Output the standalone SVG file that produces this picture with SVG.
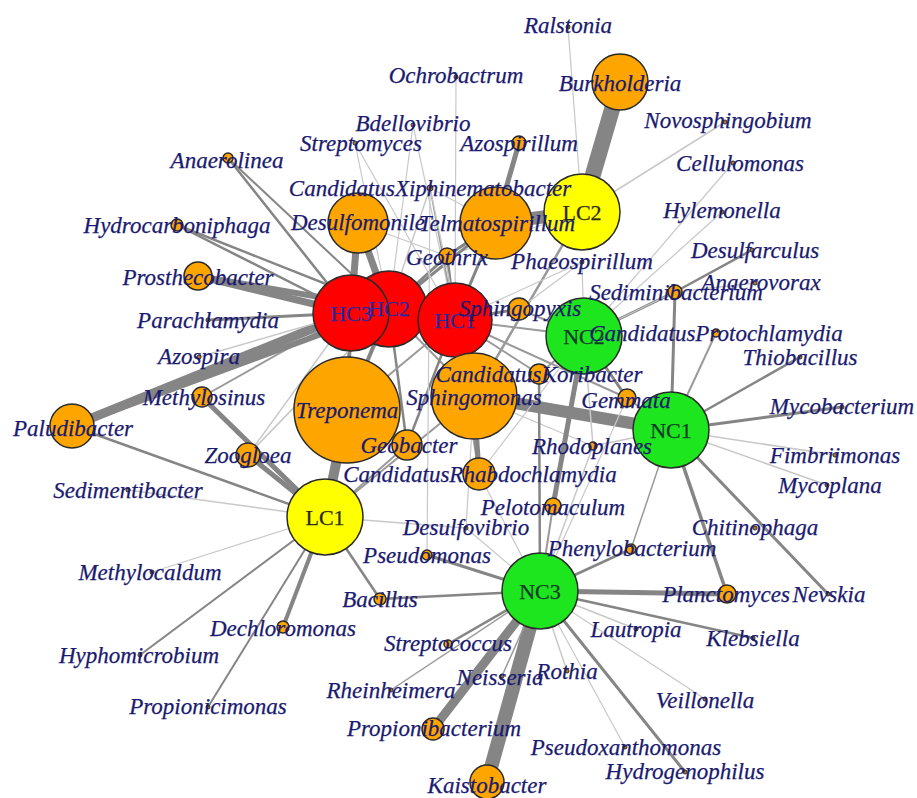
<svg xmlns="http://www.w3.org/2000/svg" width="917" height="798" viewBox="0 0 917 798">
<style>
.e{stroke:#858585;stroke-linecap:butt}
.l{stroke:#c8c8c8;stroke-linecap:butt}
.m{stroke:#9a9a9a;stroke-linecap:butt}
.o{fill:#FFA500;stroke:#2a2a2a;stroke-width:1.5}
.r{fill:#FF0000;stroke:#2a2a2a;stroke-width:1.5}
.g{fill:#1EE61E;stroke:#2a2a2a;stroke-width:1.5}
.y{fill:#FFFF00;stroke:#2a2a2a;stroke-width:1.5}
.d{fill:#b07a2a;stroke:#2a2a2a;stroke-width:1}
text{font-family:"Liberation Serif","Times New Roman",serif;font-size:23px;font-style:italic;fill:#1a1a70;stroke:#1a1a70;stroke-width:0.25;text-anchor:middle}
text.h{font-style:normal;font-size:22px}
text.hr{fill:#2a2aa0;stroke:#2a2aa0}
text.hg{fill:#123c2a;stroke:#123c2a}
text.hy{fill:#2a2a10;stroke:#2a2a10}
</style>
<rect width="917" height="798" fill="#ffffff"/>
<g id="edges">
<!-- LC2 -->
<line class="e" x1="582" y1="212" x2="620" y2="82" stroke-width="16"/>
<line class="e" x1="582" y1="212" x2="496" y2="223" stroke-width="13"/>
<line class="l" x1="582" y1="212" x2="568" y2="27" stroke-width="1.2"/>
<line class="l" x1="582" y1="212" x2="725" y2="122" stroke-width="1.5"/>
<line class="m" x1="582" y1="212" x2="474" y2="396" stroke-width="2.5"/>
<line class="l" x1="582" y1="212" x2="447" y2="256" stroke-width="1.2"/>
<!-- HC3 -->
<line class="e" x1="351" y1="313" x2="198" y2="276" stroke-width="7"/>
<line class="e" x1="351" y1="313" x2="208" y2="320" stroke-width="3"/>
<line class="e" x1="351" y1="313" x2="72" y2="426" stroke-width="9"/>
<line class="e" x1="351" y1="313" x2="177" y2="225" stroke-width="2.5"/>
<line class="e" x1="351" y1="313" x2="228" y2="158" stroke-width="2.5"/>
<line class="e" x1="351" y1="313" x2="358" y2="223" stroke-width="7"/>
<line class="l" x1="351" y1="313" x2="199" y2="357" stroke-width="1.5"/>
<line class="e" x1="351" y1="313" x2="347" y2="410" stroke-width="4"/>
<line class="l" x1="351" y1="313" x2="248" y2="455" stroke-width="1.5"/>
<line class="m" x1="351" y1="313" x2="202" y2="397" stroke-width="2"/>
<!-- HC2 -->
<line class="e" x1="389" y1="309" x2="198" y2="276" stroke-width="6"/>
<line class="e" x1="389" y1="309" x2="72" y2="426" stroke-width="6"/>
<line class="e" x1="389" y1="309" x2="177" y2="225" stroke-width="2.5"/>
<line class="e" x1="389" y1="309" x2="228" y2="158" stroke-width="2"/>
<line class="e" x1="389" y1="309" x2="358" y2="223" stroke-width="7"/>
<line class="e" x1="389" y1="309" x2="347" y2="410" stroke-width="4"/>
<line class="e" x1="389" y1="309" x2="447" y2="256" stroke-width="3"/>
<line class="e" x1="389" y1="309" x2="496" y2="223" stroke-width="3"/>
<line class="l" x1="389" y1="309" x2="355" y2="143" stroke-width="1.2"/>
<line class="l" x1="389" y1="309" x2="413" y2="125" stroke-width="1.2"/>
<line class="e" x1="389" y1="309" x2="407" y2="445" stroke-width="2.5"/>
<line class="m" x1="389" y1="309" x2="474" y2="396" stroke-width="2"/>
<line class="l" x1="389" y1="309" x2="430" y2="188" stroke-width="1.5"/>
<line class="l" x1="389" y1="309" x2="248" y2="455" stroke-width="1.5"/>
<!-- HC1 -->
<line class="l" x1="455" y1="320" x2="456" y2="77" stroke-width="1.2"/>
<line class="l" x1="455" y1="320" x2="413" y2="125" stroke-width="1.2"/>
<line class="l" x1="455" y1="320" x2="355" y2="143" stroke-width="1.2"/>
<line class="m" x1="455" y1="320" x2="430" y2="188" stroke-width="1.5"/>
<line class="e" x1="455" y1="320" x2="496" y2="223" stroke-width="3"/>
<line class="e" x1="455" y1="320" x2="447" y2="256" stroke-width="3"/>
<line class="e" x1="455" y1="320" x2="519" y2="309" stroke-width="3"/>
<line class="e" x1="455" y1="320" x2="474" y2="396" stroke-width="3"/>
<line class="e" x1="455" y1="320" x2="407" y2="445" stroke-width="2.5"/>
<line class="m" x1="455" y1="320" x2="479" y2="474" stroke-width="2"/>
<line class="m" x1="455" y1="320" x2="539" y2="374" stroke-width="2"/>
<line class="m" x1="455" y1="320" x2="584" y2="336" stroke-width="2"/>
<line class="m" x1="455" y1="320" x2="627" y2="398" stroke-width="2"/>
<line class="m" x1="455" y1="320" x2="347" y2="410" stroke-width="2"/>
<line class="l" x1="455" y1="320" x2="582" y2="262" stroke-width="1.2"/>
<line class="l" x1="358" y1="223" x2="447" y2="256" stroke-width="1.2"/>
<!-- Sphingomonas -->
<line class="e" x1="474" y1="396" x2="671" y2="430" stroke-width="12"/>
<line class="e" x1="474" y1="396" x2="479" y2="474" stroke-width="5"/>
<line class="m" x1="474" y1="396" x2="325" y2="517" stroke-width="2"/>
<line class="l" x1="474" y1="396" x2="430" y2="188" stroke-width="1.2"/>
<line class="l" x1="474" y1="396" x2="593" y2="446" stroke-width="1.2"/>
<!-- NC2 -->
<line class="m" x1="584" y1="336" x2="519" y2="309" stroke-width="2"/>
<line class="e" x1="584" y1="336" x2="675" y2="292" stroke-width="3"/>
<line class="e" x1="584" y1="336" x2="627" y2="398" stroke-width="3"/>
<line class="e" x1="584" y1="336" x2="553" y2="506" stroke-width="5"/>
<line class="m" x1="584" y1="336" x2="539" y2="374" stroke-width="2"/>
<line class="l" x1="584" y1="336" x2="733" y2="163" stroke-width="1.2"/>
<line class="l" x1="584" y1="336" x2="722" y2="212" stroke-width="1.2"/>
<line class="l" x1="584" y1="336" x2="582" y2="262" stroke-width="1.2"/>
<line class="l" x1="584" y1="336" x2="593" y2="446" stroke-width="1.5"/>
<line class="l" x1="584" y1="336" x2="479" y2="474" stroke-width="1.2"/>
<line class="l" x1="519" y1="309" x2="582" y2="262" stroke-width="1.2"/>
<!-- NC1 -->
<line class="e" x1="671" y1="430" x2="675" y2="292" stroke-width="3"/>
<line class="m" x1="671" y1="430" x2="716" y2="333" stroke-width="2"/>
<line class="e" x1="671" y1="430" x2="800" y2="357" stroke-width="2.5"/>
<line class="e" x1="671" y1="430" x2="842" y2="407" stroke-width="3"/>
<line class="l" x1="671" y1="430" x2="835" y2="455" stroke-width="1.5"/>
<line class="l" x1="671" y1="430" x2="827" y2="485" stroke-width="1.5"/>
<line class="e" x1="671" y1="430" x2="828" y2="594" stroke-width="3"/>
<line class="e" x1="671" y1="430" x2="727" y2="594" stroke-width="3.5"/>
<line class="m" x1="671" y1="430" x2="631" y2="549" stroke-width="1.5"/>
<line class="m" x1="671" y1="430" x2="627" y2="398" stroke-width="2"/>
<line class="l" x1="671" y1="430" x2="593" y2="446" stroke-width="1.5"/>
<line class="e" x1="675" y1="292" x2="752" y2="250" stroke-width="2.5"/>
<line class="l" x1="675" y1="292" x2="755" y2="283" stroke-width="1.5"/>
<line class="l" x1="675" y1="292" x2="584" y2="336" stroke-width="1.2"/>
<!-- NC3 -->
<line class="e" x1="540" y1="591" x2="487" y2="782" stroke-width="14"/>
<line class="e" x1="540" y1="591" x2="433" y2="729" stroke-width="9"/>
<line class="e" x1="540" y1="591" x2="727" y2="594" stroke-width="5"/>
<line class="e" x1="540" y1="591" x2="753" y2="638" stroke-width="2.5"/>
<line class="l" x1="540" y1="591" x2="636" y2="629" stroke-width="1.5"/>
<line class="l" x1="540" y1="591" x2="705" y2="699" stroke-width="1.2"/>
<line class="e" x1="540" y1="591" x2="685" y2="772" stroke-width="3"/>
<line class="l" x1="540" y1="591" x2="625" y2="747" stroke-width="1.2"/>
<line class="l" x1="540" y1="591" x2="567" y2="671" stroke-width="1.5"/>
<line class="m" x1="540" y1="591" x2="502" y2="676" stroke-width="1.5"/>
<line class="e" x1="540" y1="591" x2="448" y2="644" stroke-width="2.5"/>
<line class="m" x1="540" y1="591" x2="391" y2="690" stroke-width="1.5"/>
<line class="e" x1="540" y1="591" x2="380" y2="599" stroke-width="2.5"/>
<line class="e" x1="540" y1="591" x2="427" y2="555" stroke-width="3"/>
<line class="e" x1="540" y1="591" x2="631" y2="549" stroke-width="2.5"/>
<line class="l" x1="540" y1="591" x2="466" y2="528" stroke-width="1.2"/>
<line class="m" x1="540" y1="591" x2="553" y2="506" stroke-width="2"/>
<line class="e" x1="540" y1="591" x2="539" y2="374" stroke-width="2.5"/>
<line class="l" x1="540" y1="591" x2="593" y2="446" stroke-width="1.5"/>
<line class="l" x1="540" y1="591" x2="479" y2="474" stroke-width="1.2"/>
<line class="l" x1="540" y1="591" x2="627" y2="398" stroke-width="1.2"/>
<!-- LC1 -->
<line class="e" x1="325" y1="517" x2="347" y2="410" stroke-width="10"/>
<line class="e" x1="325" y1="517" x2="202" y2="397" stroke-width="5"/>
<line class="e" x1="325" y1="517" x2="248" y2="455" stroke-width="5"/>
<line class="e" x1="325" y1="517" x2="72" y2="426" stroke-width="2.5"/>
<line class="l" x1="325" y1="517" x2="128" y2="490" stroke-width="1.5"/>
<line class="l" x1="325" y1="517" x2="152" y2="572" stroke-width="1.2"/>
<line class="e" x1="325" y1="517" x2="140" y2="655" stroke-width="2"/>
<line class="e" x1="325" y1="517" x2="208" y2="707" stroke-width="2"/>
<line class="e" x1="325" y1="517" x2="283" y2="627" stroke-width="4"/>
<line class="e" x1="325" y1="517" x2="380" y2="599" stroke-width="2.5"/>
<line class="l" x1="325" y1="517" x2="466" y2="528" stroke-width="1.5"/>
<line class="m" x1="325" y1="517" x2="407" y2="445" stroke-width="2"/>
<line class="l" x1="248" y1="455" x2="389" y2="309" stroke-width="1.2"/>
<!-- misc -->
<line class="e" x1="519" y1="143" x2="496" y2="223" stroke-width="5"/>
<line class="e" x1="447" y1="256" x2="496" y2="223" stroke-width="3"/>
<line class="l" x1="427" y1="555" x2="430" y2="188" stroke-width="1.2"/>
<line class="l" x1="466" y1="528" x2="474" y2="396" stroke-width="1.2"/>
<line class="l" x1="430" y1="188" x2="496" y2="223" stroke-width="1.2"/>
</g>
<g id="n-HC2"><circle class="r" cx="389" cy="309" r="38"/></g>
<g id="n-HC1"><circle class="r" cx="455" cy="320" r="37"/><text class="h hr" x="455" y="328">HC1</text></g>
<g id="n-HC3"><circle class="r" cx="351" cy="313" r="38"/><text class="h hr" x="351" y="321">HC3</text></g>
<text class="h hr" x="389" y="316">HC2</text>
<g id="n-NC2"><circle class="g" cx="584" cy="336" r="38"/><text class="h hg" x="584" y="344">NC2</text></g>
<g id="n-NC1"><circle class="g" cx="671" cy="430" r="38"/><text class="h hg" x="671" y="438">NC1</text></g>
<g id="n-NC3"><circle class="g" cx="540" cy="591" r="38"/><text class="h hg" x="540" y="599">NC3</text></g>
<g id="n-LC1"><circle class="y" cx="325" cy="517" r="38"/><text class="h hy" x="325" y="525">LC1</text></g>
<g id="n-LC2"><circle class="y" cx="582" cy="212" r="38"/><text class="h hy" x="582" y="220">LC2</text></g>
<g id="n-Treponema"><circle class="o" cx="347" cy="410" r="53"/><text x="347" y="418">Treponema</text></g>
<g id="n-Sphingomonas"><circle class="o" cx="474" cy="396" r="43"/><text x="474" y="405">Sphingomonas</text></g>
<g id="n-Telmatospirillum"><circle class="o" cx="496" cy="223" r="36"/><text x="497" y="231">Telmatospirillum</text></g>
<g id="n-Desulfomonile"><circle class="o" cx="358" cy="223" r="30"/><text x="358" y="230">Desulfomonile</text></g>
<g id="n-Burkholderia"><circle class="o" cx="620" cy="82" r="28"/><text x="620" y="91">Burkholderia</text></g>
<g id="n-Paludibacter"><circle class="o" cx="72" cy="426" r="22"/><text x="73" y="436">Paludibacter</text></g>
<g id="n-Kaistobacter"><circle class="o" cx="487" cy="782" r="17"/><text x="487" y="793">Kaistobacter</text></g>
<g id="n-Rhabdochlamydia"><circle class="o" cx="479" cy="474" r="16"/><text x="480" y="482">CandidatusRhabdochlamydia</text></g>
<g id="n-Geobacter"><circle class="o" cx="407" cy="445" r="15"/><text x="409" y="453">Geobacter</text></g>
<g id="n-Prosthecobacter"><circle class="o" cx="198" cy="276" r="14"/><text x="198" y="285">Prosthecobacter</text></g>
<g id="n-Zoogloea"><circle class="o" cx="248" cy="455" r="12"/><text x="248" y="463">Zoogloea</text></g>
<g id="n-Propionibacterium"><circle class="o" cx="433" cy="729" r="11"/><text x="434" y="736">Propionibacterium</text></g>
<g id="n-Sphingopyxis"><circle class="o" cx="519" cy="309" r="11"/><text x="520" y="316">Sphingopyxis</text></g>
<g id="n-Methylosinus"><circle class="o" cx="202" cy="397" r="10"/><text x="204" y="405">Methylosinus</text></g>
<g id="n-Koribacter"><circle class="o" cx="539" cy="374" r="10"/><text x="539" y="382">CandidatusKoribacter</text></g>
<g id="n-Gemmata"><circle class="o" cx="627" cy="398" r="9"/><text x="626" y="408">Gemmata</text></g>
<g id="n-Planctomyces"><circle class="o" cx="727" cy="594" r="9"/><text x="726" y="602">Planctomyces</text></g>
<g id="n-Geothrix"><circle class="o" cx="447" cy="256" r="8"/><text x="447" y="265">Geothrix</text></g>
<g id="n-Pelotomaculum"><circle class="o" cx="553" cy="506" r="8"/><text x="553" y="515">Pelotomaculum</text></g>
<g id="n-Azospirillum"><circle class="o" cx="519" cy="143" r="7"/><text x="519" y="151">Azospirillum</text></g>
<g id="n-Sediminibacterium"><circle class="o" cx="675" cy="292" r="7"/><text x="676" y="300">Sediminibacterium</text></g>
<g id="n-Hydrocarboniphaga"><circle class="o" cx="177" cy="225" r="6"/><text x="177" y="233">Hydrocarboniphaga</text></g>
<g id="n-Bacillus"><circle class="o" cx="380" cy="599" r="6"/><text x="380" y="607">Bacillus</text></g>
<g id="n-Dechloromonas"><circle class="o" cx="283" cy="627" r="6"/><text x="283" y="636">Dechloromonas</text></g>
<g id="n-Anaerolinea"><circle class="o" cx="228" cy="158" r="5"/><text x="227" y="168">Anaerolinea</text></g>
<g id="n-Pseudomonas"><circle class="o" cx="427" cy="555" r="5"/><text x="427" y="563">Pseudomonas</text></g>
<g id="n-Phenylobacterium"><circle class="o" cx="631" cy="549" r="5"/><text x="632" y="556">Phenylobacterium</text></g>
<g id="n-Streptococcus"><circle class="o" cx="448" cy="644" r="4"/><text x="448" y="651">Streptococcus</text></g>
<g id="n-Rhodoplanes"><circle class="o" cx="593" cy="446" r="4"/><text x="592" y="454">Rhodoplanes</text></g>
<g id="n-Protochlamydia"><circle class="o" cx="716" cy="333" r="4"/><text x="716" y="341">CandidatusProtochlamydia</text></g>
<g id="n-Xiphinematobacter"><circle class="d" cx="430" cy="188" r="3"/><text x="430" y="196">CandidatusXiphinematobacter</text></g>
<g id="n-Ralstonia"><circle class="d" cx="568" cy="27" r="2"/><text x="568" y="33">Ralstonia</text></g>
<g id="n-Ochrobactrum"><circle class="d" cx="456" cy="77" r="2"/><text x="456" y="83">Ochrobactrum</text></g>
<g id="n-Novosphingobium"><circle class="d" cx="725" cy="122" r="2"/><text x="728" y="128">Novosphingobium</text></g>
<g id="n-Bdellovibrio"><circle class="d" cx="413" cy="125" r="2"/><text x="413" y="131">Bdellovibrio</text></g>
<g id="n-Streptomyces"><circle class="d" cx="355" cy="143" r="2"/><text x="361" y="151">Streptomyces</text></g>
<g id="n-Cellulomonas"><circle class="d" cx="733" cy="163" r="2"/><text x="740" y="171">Cellulomonas</text></g>
<g id="n-Hylemonella"><circle class="d" cx="722" cy="212" r="2"/><text x="722" y="218">Hylemonella</text></g>
<g id="n-Desulfarculus"><circle class="d" cx="752" cy="250" r="2"/><text x="755" y="258">Desulfarculus</text></g>
<g id="n-Anaerovorax"><circle class="d" cx="755" cy="283" r="2"/><text x="761" y="290">Anaerovorax</text></g>
<g id="n-Phaeospirillum"><circle class="d" cx="582" cy="262" r="2"/><text x="582" y="269">Phaeospirillum</text></g>
<g id="n-Parachlamydia"><circle class="d" cx="208" cy="320" r="2"/><text x="208" y="328">Parachlamydia</text></g>
<g id="n-Azospira"><circle class="d" cx="199" cy="357" r="2"/><text x="199" y="364">Azospira</text></g>
<g id="n-Thiobacillus"><circle class="d" cx="800" cy="357" r="2"/><text x="800" y="365">Thiobacillus</text></g>
<g id="n-Mycobacterium"><circle class="d" cx="842" cy="407" r="2"/><text x="842" y="414">Mycobacterium</text></g>
<g id="n-Fimbriimonas"><circle class="d" cx="835" cy="455" r="2"/><text x="835" y="463">Fimbriimonas</text></g>
<g id="n-Mycoplana"><circle class="d" cx="827" cy="485" r="2"/><text x="830" y="493">Mycoplana</text></g>
<g id="n-Sedimentibacter"><circle class="d" cx="128" cy="490" r="2"/><text x="128" y="498">Sedimentibacter</text></g>
<g id="n-Chitinophaga"><circle class="d" cx="755" cy="528" r="2"/><text x="755" y="535">Chitinophaga</text></g>
<g id="n-Desulfovibrio"><circle class="d" cx="466" cy="528" r="2"/><text x="466" y="535">Desulfovibrio</text></g>
<g id="n-Methylocaldum"><circle class="d" cx="152" cy="572" r="2"/><text x="150" y="580">Methylocaldum</text></g>
<g id="n-Nevskia"><circle class="d" cx="828" cy="594" r="2"/><text x="829" y="602">Nevskia</text></g>
<g id="n-Lautropia"><circle class="d" cx="636" cy="629" r="2"/><text x="636" y="637">Lautropia</text></g>
<g id="n-Klebsiella"><circle class="d" cx="753" cy="638" r="2"/><text x="753" y="646">Klebsiella</text></g>
<g id="n-Hyphomicrobium"><circle class="d" cx="140" cy="655" r="2"/><text x="139" y="663">Hyphomicrobium</text></g>
<g id="n-Rheinheimera"><circle class="d" cx="391" cy="690" r="2"/><text x="391" y="698">Rheinheimera</text></g>
<g id="n-Neisseria"><circle class="d" cx="502" cy="676" r="2"/><text x="500" y="685">Neisseria</text></g>
<g id="n-Rothia"><circle class="d" cx="567" cy="671" r="2"/><text x="567" y="679">Rothia</text></g>
<g id="n-Veillonella"><circle class="d" cx="705" cy="699" r="2"/><text x="705" y="708">Veillonella</text></g>
<g id="n-Propionicimonas"><circle class="d" cx="208" cy="707" r="2"/><text x="208" y="714">Propionicimonas</text></g>
<g id="n-Pseudoxanthomonas"><circle class="d" cx="625" cy="747" r="2"/><text x="626" y="755">Pseudoxanthomonas</text></g>
<g id="n-Hydrogenophilus"><circle class="d" cx="685" cy="772" r="2"/><text x="685" y="779">Hydrogenophilus</text></g>
</svg>
